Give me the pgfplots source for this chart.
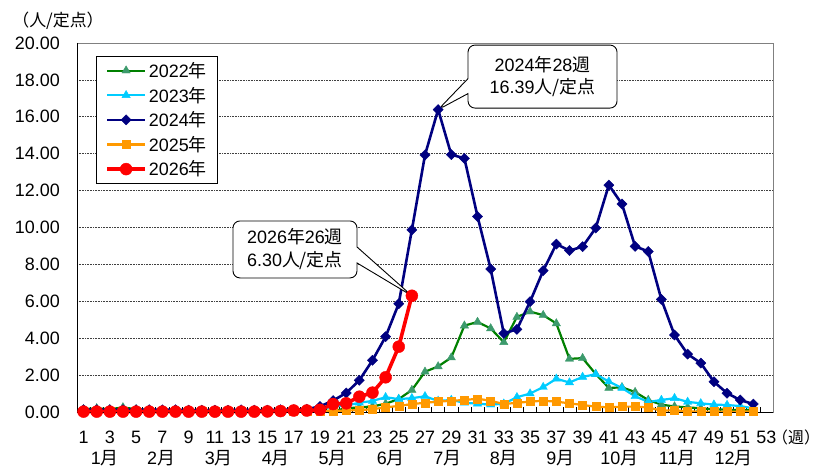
\documentclass[border=0pt]{standalone}
\usepackage{fontspec}
\setmainfont{Liberation Sans}
\newfontfamily\jp{Noto Sans CJK JP}
\usepackage{pgfplots}
\pgfplotsset{compat=1.18}
\usepackage{pgfplotstable}
\usetikzlibrary{shapes.callouts}

\definecolor{c22}{HTML}{008000}
\definecolor{c22m}{HTML}{3C9A6C}
\definecolor{c23}{HTML}{00CCFF}
\definecolor{c24}{HTML}{000080}
\definecolor{c25}{HTML}{FF9900}
\definecolor{c26}{HTML}{FF0000}

% weekly values, 2022-2025
\pgfplotstableread{
w a b c d
1 0.15 0.05 0.12 0.02
2 0.20 0.05 0.12 0.02
3 0.15 0.05 0.12 0.02
4 0.25 0.05 0.12 0.02
5 0.15 0.05 0.12 0.02
6 0.10 0.05 0.12 0.02
7 0.10 0.05 0.12 0.02
8 0.10 0.05 0.12 0.02
9 0.10 0.05 0.10 0.02
10 0.10 0.05 0.10 0.02
11 0.05 0.05 0.10 0.02
12 0.05 0.05 0.10 0.02
13 0.05 0.05 0.12 0.02
14 0.05 0.05 0.10 0.02
15 0.05 0.05 0.10 0.02
16 0.05 0.08 0.12 0.02
17 0.05 0.08 0.12 0.02
18 0.05 0.10 0.15 0.02
19 0.10 0.15 0.30 0.03
20 0.05 0.30 0.62 0.05
21 0.20 0.35 1.03 0.08
22 0.25 0.50 1.72 0.10
23 0.30 0.60 2.80 0.15
24 0.45 0.80 4.08 0.25
25 0.70 0.70 5.87 0.33
26 1.19 0.75 9.87 0.43
27 2.18 0.85 13.93 0.50
28 2.47 0.60 16.39 0.56
29 2.95 0.65 13.95 0.61
30 4.68 0.50 13.75 0.65
31 4.88 0.45 10.60 0.72
32 4.53 0.40 7.75 0.61
33 3.78 0.45 4.26 0.43
34 5.15 0.80 4.48 0.50
35 5.44 1.00 5.98 0.56
36 5.25 1.35 7.66 0.61
37 4.80 1.80 9.10 0.56
38 2.88 1.60 8.75 0.47
39 2.92 1.90 8.96 0.38
40 2.06 2.05 9.97 0.29
41 1.30 1.65 12.30 0.25
42 1.34 1.30 11.27 0.29
43 1.08 0.85 8.98 0.29
44 0.65 0.55 8.70 0.25
45 0.40 0.65 6.10 0.07
46 0.30 0.75 4.17 0.10
47 0.25 0.55 3.14 0.03
48 0.20 0.47 2.65 0.02
49 0.15 0.40 1.64 0.02
50 0.12 0.38 1.02 0.02
51 0.10 0.32 0.65 0.02
52 0.10 0.20 0.43 0.03
}\flu

% 2026 so far
\pgfplotstableread{
w e
1 0.02
2 0.02
3 0.02
4 0.02
5 0.02
6 0.02
7 0.02
8 0.02
9 0.02
10 0.02
11 0.02
12 0.02
13 0.02
14 0.02
15 0.03
16 0.05
17 0.08
18 0.08
19 0.12
20 0.43
21 0.47
22 0.83
23 1.05
24 1.88
25 3.54
26 6.30
}\cur

\newcommand{\fs}{\fontsize{18}{22}\selectfont}

\begin{document}
\begin{tikzpicture}
\path[use as bounding box] (-77bp,-55bp) rectangle (748bp,412bp);
\begin{axis}[
  scale only axis,
  width=696bp, height=369bp,
  xmin=0.5, xmax=53.5, ymin=0, ymax=20,
  clip=false,
  xtick={1,3,...,53},
  minor xtick={1.5,2.5,...,52.5},
  ytick={0,2,...,20},
  tick pos=left, tick align=inside,
  major tick length=0pt, minor tick length=5bp,
  minor tick style={black, line width=0.6pt},
  ymajorgrids,
  major grid style={black!75, line width=0.6pt, densely dotted},
  axis line style={gray, line width=0.8pt},
  yticklabel style={anchor=east, inner sep=0pt, xshift=-17bp,
    /pgf/number format/.cd, fixed, fixed zerofill, precision=2},
  xticklabel style={anchor=north, inner sep=0pt, yshift=-19bp},
  tick label style={font=\fs},
  /pgf/number format/assume math mode=true,
  legend style={at={(rel axis cs:0.0273,0.9648)}, anchor=north west,
    draw=black, line width=0.6pt, font=\fs, row sep=4bp,
    nodes={inner sep=2bp}, inner xsep=9bp, inner ysep=4bp},
  legend cell align=left,
  legend image code/.code={\draw[mark repeat=2,mark phase=2,#1]
    plot coordinates {(0bp,0bp) (19bp,0bp) (38bp,0bp)};},
]
\addplot[c22, line width=2.2bp, mark=triangle*, mark size=4.8bp,
  mark options={fill=c22m, draw=c22m, line width=0.4bp}]
  table[x=w, y=a]{\flu};
\addlegendentry{2022{\jp 年}}
\addplot[c23, line width=2.2bp, mark=triangle*, mark size=4.8bp,
  mark options={fill=c23, draw=c23, line width=0.4bp}]
  table[x=w, y=b]{\flu};
\addlegendentry{2023{\jp 年}}
\addplot[c24, line width=2.6bp, mark=square*, mark size=3.6bp,
  mark options={fill=c24, draw=c24, rotate=45, line width=0.4bp}]
  table[x=w, y=c]{\flu};
\addlegendentry{2024{\jp 年}}
\addplot[c25, line width=2.2bp, mark=square*, mark size=4bp,
  mark options={fill=c25, draw=c25, line width=0.4bp}]
  table[x=w, y=d]{\flu};
\addlegendentry{2025{\jp 年}}
\addplot[c26, line width=3.6bp, mark=*, mark size=6bp,
  mark options={fill=c26, draw=c26, line width=0.4bp}]
  table[x=w, y=e]{\cur};
\addlegendentry{2026{\jp 年}}

\draw[black, line width=1pt] (rel axis cs:0,1) -- (rel axis cs:0,0) -- (rel axis cs:1,0);

\node[rectangle callout, draw=black, line width=0.9pt, fill=white, rounded corners=7bp,
  callout absolute pointer={(axis cs:28,16.39)}, callout pointer width=15bp,
  minimum width=149bp, minimum height=63bp, align=center,
  font=\fontsize{18}{23}\selectfont]
  at (axis cs:35.95,18.18) {2024{\jp 年}28{\jp 週}\\16.39{\jp 人/定点}};
\node[rectangle callout, draw=black, line width=0.9pt, fill=white, rounded corners=7bp,
  callout absolute pointer={(axis cs:26,6.3)}, callout pointer width=16bp,
  minimum width=124bp, minimum height=57bp, align=center,
  font=\fontsize{18}{23}\selectfont]
  at (axis cs:17.1,8.81) {2026{\jp 年}26{\jp 週}\\6.30{\jp 人/定点}};

\node[font=\fontsize{17}{20}\selectfont\jp, inner sep=0pt]
  at (rel axis cs:0,1) [xshift=-19bp, yshift=22bp] {（人/定点）};
\node[font=\fontsize{16}{20}\selectfont\jp, anchor=west, inner sep=0pt]
  at (rel axis cs:1,0) [xshift=-1bp, yshift=-25bp] {（週）};

\node[font=\fs, inner sep=0pt, yshift=-46bp] at (axis cs:2.61,0) {1{\jp 月}};
\node[font=\fs, inner sep=0pt, yshift=-46bp] at (axis cs:6.9,0) {2{\jp 月}};
\node[font=\fs, inner sep=0pt, yshift=-46bp] at (axis cs:11.3,0) {3{\jp 月}};
\node[font=\fs, inner sep=0pt, yshift=-46bp] at (axis cs:15.65,0) {4{\jp 月}};
\node[font=\fs, inner sep=0pt, yshift=-46bp] at (axis cs:19.96,0) {5{\jp 月}};
\node[font=\fs, inner sep=0pt, yshift=-46bp] at (axis cs:24.4,0) {6{\jp 月}};
\node[font=\fs, inner sep=0pt, yshift=-46bp] at (axis cs:28.7,0) {7{\jp 月}};
\node[font=\fs, inner sep=0pt, yshift=-46bp] at (axis cs:33.0,0) {8{\jp 月}};
\node[font=\fs, inner sep=0pt, yshift=-46bp] at (axis cs:37.3,0) {9{\jp 月}};
\node[font=\fs, inner sep=0pt, yshift=-46bp] at (axis cs:41.8,0) {10{\jp 月}};
\node[font=\fs, inner sep=0pt, yshift=-46bp] at (axis cs:46.2,0) {11{\jp 月}};
\node[font=\fs, inner sep=0pt, yshift=-46bp] at (axis cs:50.5,0) {12{\jp 月}};
\end{axis}
\end{tikzpicture}
\end{document}
